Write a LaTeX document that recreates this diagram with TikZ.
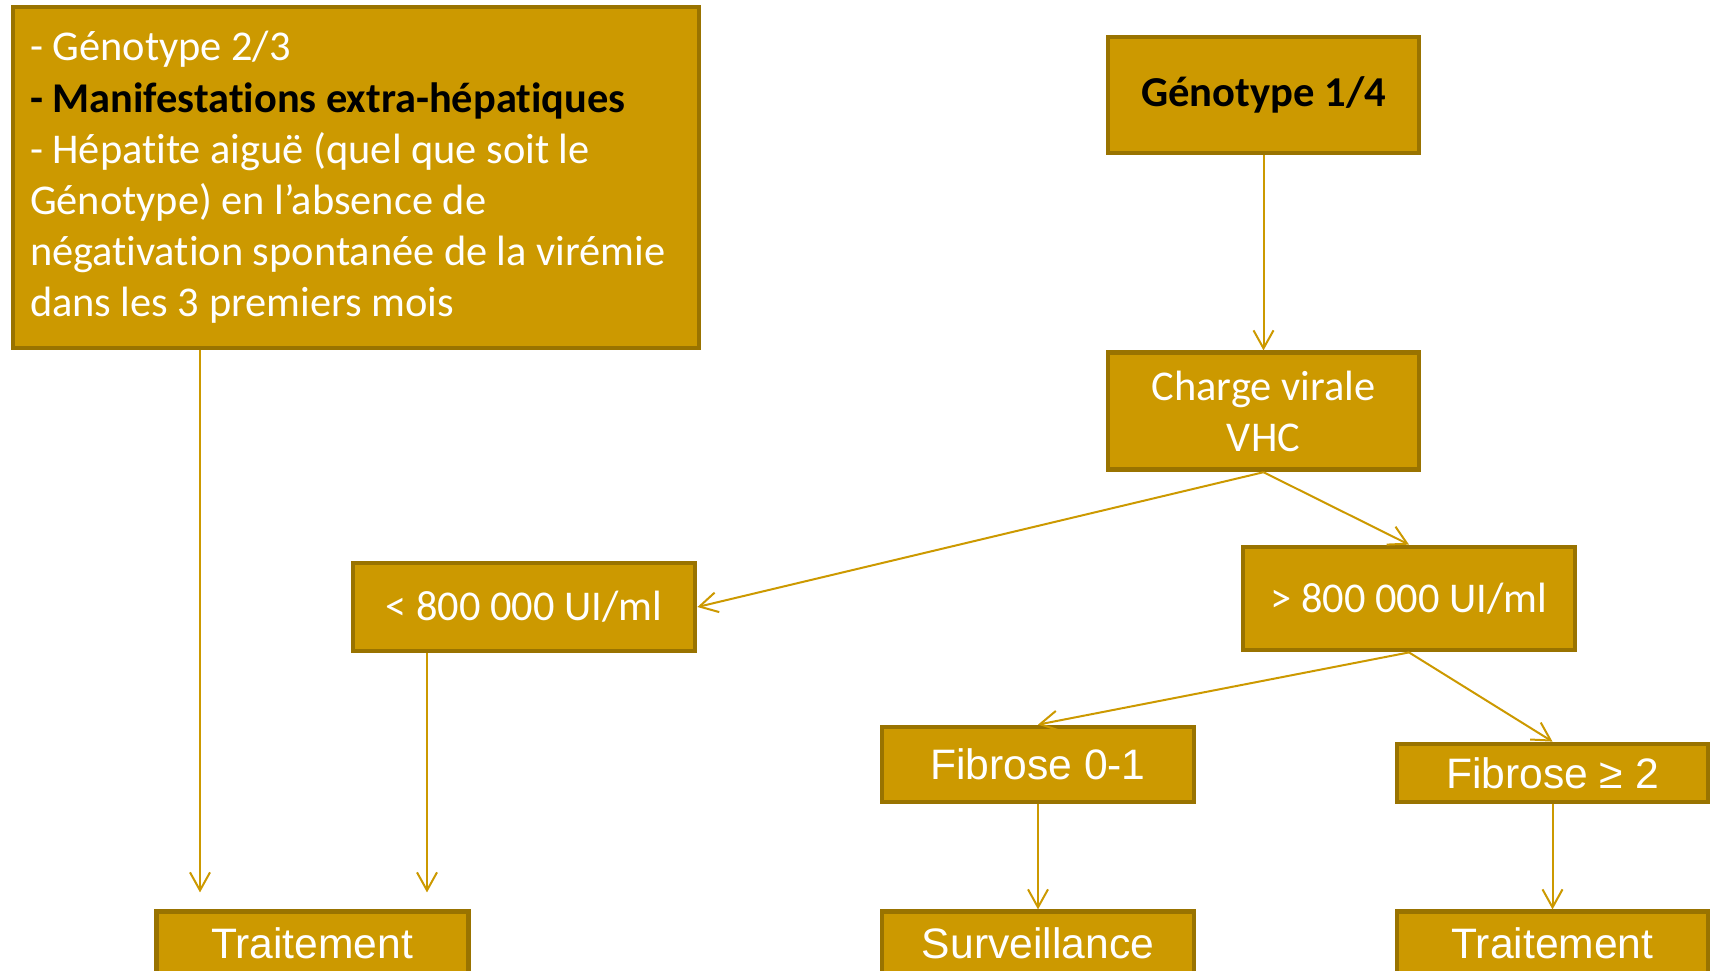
\documentclass[tikz,border=0pt]{standalone}
\usepackage{fontspec}
\setmainfont{Carlito}[Ligatures=NoCommon]
\newfontfamily\arialfont{Liberation Sans}
\usepackage{tikz}
\usetikzlibrary{arrows.meta, positioning}

\definecolor{gold}{RGB}{204,153,0}
\definecolor{darkgold}{RGB}{153,115,0}

\begin{document}
\begin{tikzpicture}[x=0.5pt, y=-0.5pt,
		box/.style = {rectangle, draw=darkgold, fill=gold, line width=2.4pt, text=white, inner sep=0pt},
		calibri/.style = {font=\fontsize{21.2}{25.6}\selectfont},
		arial/.style = {font=\arialfont\fontsize{21.3}{26}\selectfont},
		arrow/.style = {draw=gold, line width=1pt, -{Straight Barb[length=9pt, width=10pt]}}
		]
		\useasboundingbox (0,0) rectangle (1717,970);
		
		% Boxes
		\node[box, calibri, minimum width=343pt, minimum height=170.5pt, text width=326pt, align=left] (Criteria) at (356,177.5)
			{\spaceskip=0pt\xspaceskip=0pt
			- Génotype 2/3\\
			{\bfseries\color{black}- Manifestations extra-hépatiques}\\
			- Hépatite aiguë (quel que soit le\\
			Génotype) en l’absence de\\
			négativation spontanée de la virémie\\
			dans les 3 premiers mois};
		\node[box, calibri, font=\bfseries\fontsize{21.3}{25}\selectfont, text=black, minimum width=155.5pt, minimum height=58pt] (Genotype) at (1263.5,95) {Génotype 1/4};
		\node[box, calibri, align=center, minimum width=155.5pt, minimum height=58.5pt, below=97.5pt of Genotype] (Charge) {Charge virale\\VHC};
		\node[box, calibri, minimum width=171pt, minimum height=44pt] (Low) at (524,607) {< 800 000 UI/ml};
		\node[box, calibri, minimum width=166pt, minimum height=51.5pt] (High) at (1409,598.5) {> 800 000 UI/ml};
		\node[box, arial, minimum width=156pt, minimum height=37.5pt] (FibLow) at (1038,764.5) {Fibrose 0-1};
		\node[box, arial, minimum width=155.5pt, minimum height=29pt] (FibHigh) at (1552.5,773) {Fibrose ≥ 2};
		\node[box, arial, minimum width=156pt, minimum height=31pt, below=52.5pt of FibLow] (Surveillance) {Surveillance};
		\node[box, arial, minimum width=156pt, minimum height=31pt, left=204.5pt of Surveillance] (TreatLeft) {Traitement};
		\node[box, arial, minimum width=155.5pt, minimum height=31pt, below=52.5pt of FibHigh] (TreatRight) {Traitement};
		
		% Arrows
		\coordinate (CriteriaOut) at ([xshift=-78pt]Criteria.south);
		\coordinate (LowOut) at ([xshift=-48.5pt]Low.south);
		\draw[arrow, shorten >=8.5pt] (CriteriaOut) -- (CriteriaOut |- TreatLeft.north);
		\draw[arrow, shorten >=8.5pt] (LowOut) -- (LowOut |- TreatLeft.north);
		\draw[arrow] (Genotype) -- (Charge);
		\draw[arrow] (Charge.south) -- (Low.east);
		\draw[arrow] (Charge.south) -- (High.north);
		\draw[arrow] (High.south) -- (FibLow.north);
		\draw[arrow] (High.south) -- (FibHigh.north);
		\draw[arrow] (FibLow) -- (Surveillance);
		\draw[arrow] (FibHigh) -- (TreatRight);
		
	\end{tikzpicture}
\end{document}
